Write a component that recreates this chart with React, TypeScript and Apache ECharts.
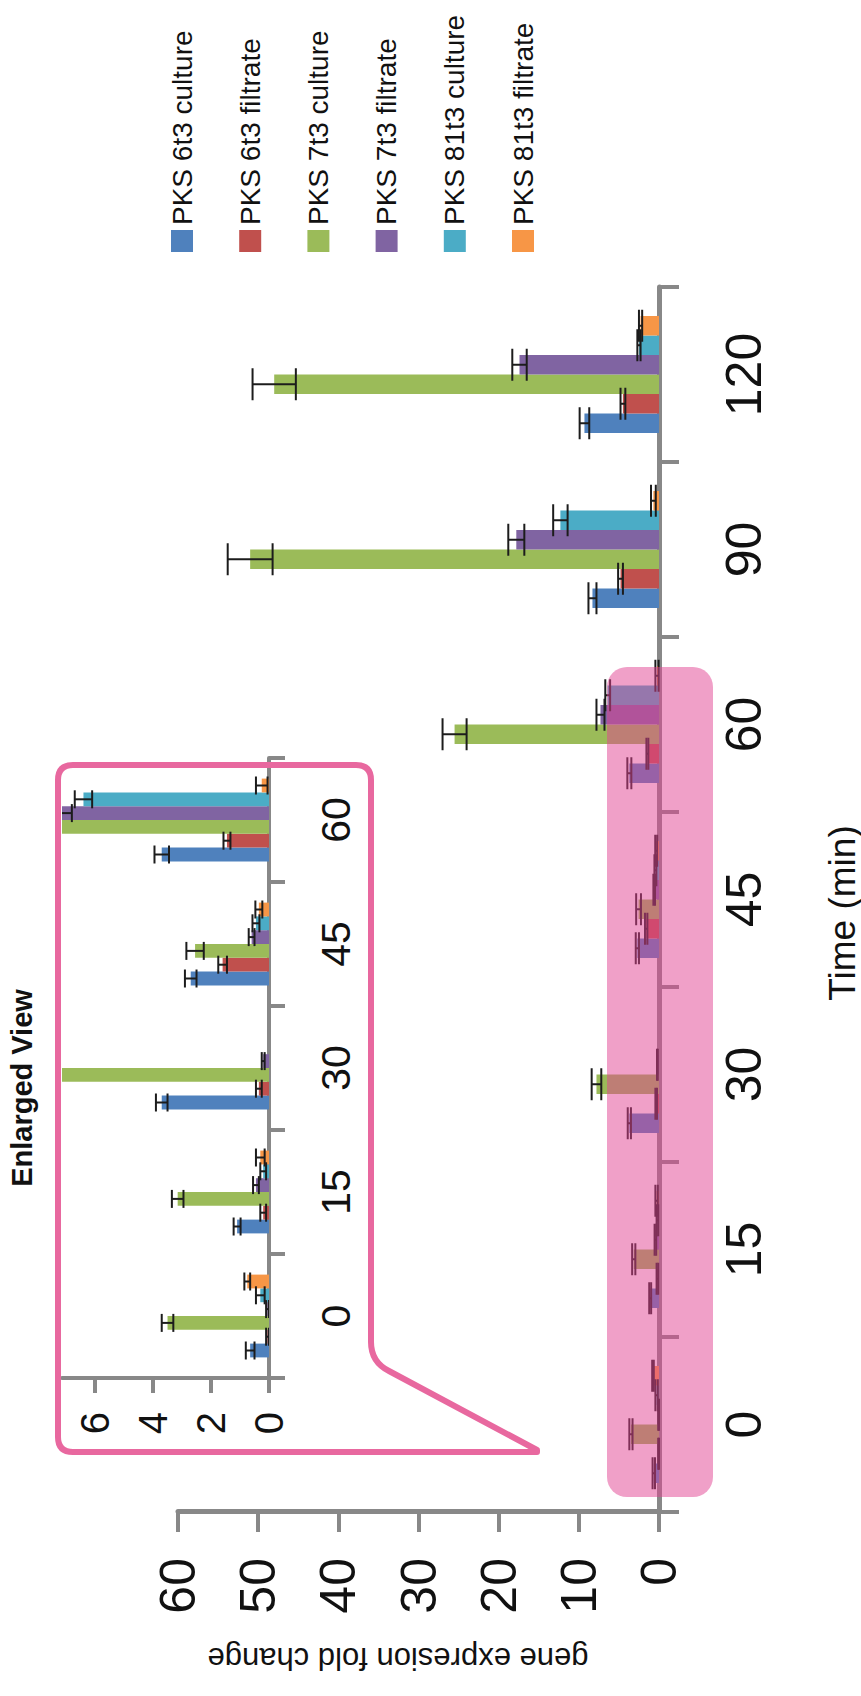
import React, { useEffect, useRef } from "react";
import * as echarts from "echarts";

// ---------- data ----------
const categories = ["0", "15", "30", "45", "60", "90", "120"];
const insetCategories = ["0", "15", "30", "45", "60"];
const seriesNames = [
  "PKS 6t3 culture",
  "PKS 6t3 filtrate",
  "PKS 7t3 culture",
  "PKS 7t3 filtrate",
  "PKS 81t3 culture",
  "PKS 81t3 filtrate",
];
const seriesColors = ["#4F81BD", "#C0504D", "#9BBB59", "#8064A2", "#4BACC6", "#F79646"];

const pks6Culture = [0.65, 1.1, 3.7, 2.7, 3.7, 8.3, 9.3];
const pks6CultureErr = [0.15, 0.12, 0.2, 0.2, 0.25, 0.5, 0.6];
const pks6Filtrate = [0.05, 0.2, 0.35, 1.6, 1.45, 4.8, 4.5];
const pks6FiltrateErr = [0.05, 0.1, 0.1, 0.15, 0.12, 0.3, 0.3];
const pks7Culture = [3.5, 3.15, 7.8, 2.55, 25.5, 51, 48];
const pks7CultureErr = [0.2, 0.2, 0.6, 0.3, 1.5, 2.8, 2.7];
const pks7Filtrate = [0.05, 0.45, 0.2, 0.6, 7.3, 17.8, 17.4];
const pks7FiltrateErr = [0.05, 0.1, 0.05, 0.1, 0.5, 1.0, 0.9];
const pks81Culture = [0.3, 0.2, 0, 0.45, 6.4, 12.3, 2.5];
const pks81CultureErr = [0.15, 0.1, 0, 0.12, 0.3, 0.9, 0.2];
const pks81Filtrate = [0.75, 0.3, 0, 0.35, 0.25, 0.7, 2.3];
const pks81FiltrateErr = [0.1, 0.15, 0, 0.12, 0.2, 0.3, 0.2];

const mainValueTicks = { min: 0, max: 60, interval: 10 };
const insetValueTicks = [0, 2, 4, 6];

const valueSets = [pks6Culture, pks6Filtrate, pks7Culture, pks7Filtrate, pks81Culture, pks81Filtrate];
const errSets = [pks6CultureErr, pks6FiltrateErr, pks7CultureErr, pks7FiltrateErr, pks81CultureErr, pks81FiltrateErr];

// ---------- layout (chart space, drawn then rotated 90° CCW) ----------
const FAM = "'Liberation Sans', Arial, Helvetica, sans-serif";
const AXIS_GRAY = "#888888";
const MAIN_BAR_W = 19.5;
const INSET_BAR_W = 13.8;

const calloutPath =
  "M 244 73 Q 244 58 259 58 L 916 58 Q 931 58 931 73 L 931 356 Q 931 371 916 371 " +
  "L 354 371 Q 334 371 325 389 L 246 537 L 244 537 Z";

function errData(nCat: number) {
  const out: number[][] = [];
  for (let s = 0; s < valueSets.length; s++) {
    for (let c = 0; c < nCat; c++) {
      if (errSets[s][c] > 0) out.push([c, valueSets[s][c], errSets[s][c], s]);
    }
  }
  return out;
}

function makeErrRender(barW: number, capW: number) {
  return (params: any, api: any) => {
    const cat = api.value(0);
    const val = api.value(1);
    const err = api.value(2);
    const s = api.value(3);
    const base = api.coord([cat, val]);
    const x = base[0] + (s - 2.5) * barW;
    const yHi = api.coord([cat, val + err])[1];
    const yLo = api.coord([cat, Math.max(0, val - err)])[1];
    const h = capW / 2;
    const st = { stroke: "#1c1c1c", lineWidth: 2 };
    return {
      type: "group",
      children: [
        { type: "line", shape: { x1: x, y1: yHi, x2: x, y2: yLo }, style: st },
        { type: "line", shape: { x1: x - h, y1: yHi, x2: x + h, y2: yHi }, style: st },
        { type: "line", shape: { x1: x - h, y1: yLo, x2: x + h, y2: yLo }, style: st },
      ],
    };
  };
}

export default function App() {
  const ref = useRef<HTMLDivElement>(null);

  useEffect(() => {
    if (!ref.current) return;
    echarts.graphic.registerShape("callout", echarts.graphic.extendPath(calloutPath, {}));
    const chart = echarts.init(ref.current, null, { renderer: "svg" });

    const mainBars = seriesNames.map((name, i) => ({
      type: "bar",
      name,
      xAxisIndex: 0,
      yAxisIndex: 0,
      data: valueSets[i],
      barWidth: MAIN_BAR_W,
      barGap: "0%",
      itemStyle: { color: seriesColors[i] },
    }));
    const insetBars = seriesNames.map((name, i) => ({
      type: "bar",
      name,
      xAxisIndex: 1,
      yAxisIndex: 1,
      data: valueSets[i].slice(0, insetCategories.length),
      barWidth: INSET_BAR_W,
      barGap: "0%",
      clip: true,
      itemStyle: { color: seriesColors[i] },
    }));

    const option: any = {
      animation: false,
      backgroundColor: "#ffffff",
      textStyle: { fontFamily: FAM },
      legend: {
        orient: "vertical",
        left: 1444,
        top: 168,
        padding: 0,
        itemWidth: 22,
        itemHeight: 22,
        itemGap: 40.2,
        icon: "rect",
        selectedMode: false,
        data: seriesNames,
        textStyle: { fontSize: 28, color: "#111", fontFamily: FAM, lineHeight: 22 },
      },
      grid: [
        { left: 184, top: 178, width: 1225, height: 481 },
        { left: 318, top: 62, width: 620, height: 207 },
      ],
      xAxis: [
        {
          type: "category",
          gridIndex: 0,
          data: categories,
          axisLine: { lineStyle: { color: AXIS_GRAY, width: 5 } },
          axisTick: { show: true, length: 20, lineStyle: { color: AXIS_GRAY, width: 4 } },
          axisLabel: { fontSize: 50, color: "#111", margin: 60, fontFamily: FAM },
        },
        {
          type: "category",
          gridIndex: 1,
          data: insetCategories,
          axisLine: { lineStyle: { color: AXIS_GRAY, width: 4 } },
          axisTick: { show: true, length: 16, lineStyle: { color: AXIS_GRAY, width: 4 } },
          axisLabel: { fontSize: 41, color: "#111", margin: 46, fontFamily: FAM },
        },
      ],
      yAxis: [
        {
          type: "value",
          gridIndex: 0,
          min: mainValueTicks.min,
          max: mainValueTicks.max,
          interval: mainValueTicks.interval,
          splitLine: { show: false },
          axisLine: { show: true, lineStyle: { color: AXIS_GRAY, width: 5 } },
          axisTick: { show: true, length: 20, lineStyle: { color: AXIS_GRAY, width: 4 } },
          axisLabel: { fontSize: 50, color: "#111", margin: 46, fontFamily: FAM },
        },
        {
          type: "value",
          gridIndex: 1,
          min: 0,
          max: 7.14,
          splitLine: { show: false },
          axisLine: { show: true, lineStyle: { color: AXIS_GRAY, width: 4 } },
          axisTick: {
            show: true,
            length: 15,
            customValues: insetValueTicks,
            lineStyle: { color: AXIS_GRAY, width: 4 },
          },
          axisLabel: {
            fontSize: 40,
            color: "#111",
            margin: 34,
            fontFamily: FAM,
            customValues: insetValueTicks,
          },
        },
      ],
      series: [
        ...mainBars,
        ...insetBars,
        {
          type: "custom",
          name: "err-main",
          xAxisIndex: 0,
          yAxisIndex: 0,
          renderItem: makeErrRender(MAIN_BAR_W, 32),
          data: errData(categories.length),
          z: 5,
        },
        {
          type: "custom",
          name: "err-inset",
          xAxisIndex: 1,
          yAxisIndex: 1,
          clip: true,
          renderItem: makeErrRender(INSET_BAR_W, 18),
          data: errData(insetCategories.length),
          z: 5,
        },
      ],
      graphic: [
        {
          type: "callout",
          z: 50,
          style: { fill: "none", stroke: "#e8689f", lineWidth: 6, lineJoin: "round" },
        },
        {
          type: "rect",
          z: 100,
          shape: { x: 199, y: 607, width: 830, height: 106, r: 20 },
          style: { fill: "rgba(225,65,145,0.5)" },
        },
        {
          type: "text",
          x: 608,
          y: 22,
          z: 60,
          style: {
            text: "Enlarged View",
            fontSize: 29,
            fontWeight: "bold",
            fontFamily: FAM,
            fill: "#111",
            align: "center",
            verticalAlign: "middle",
          },
        },
        {
          type: "text",
          x: 783,
          y: 842,
          z: 60,
          style: {
            text: "Time (min)",
            fontSize: 37,
            fontFamily: FAM,
            fill: "#111",
            align: "center",
            verticalAlign: "middle",
          },
        },
        {
          type: "text",
          x: 38,
          y: 398,
          rotation: Math.PI / 2,
          z: 60,
          style: {
            text: "gene expresion fold change",
            fontSize: 31,
            fontFamily: FAM,
            fill: "#111",
            align: "center",
            verticalAlign: "middle",
          },
        },
      ],
    };

    chart.setOption(option);
    return () => {
      chart.dispose();
    };
  }, []);

  return (
    <div
      style={{
        position: "absolute",
        left: 0,
        top: 0,
        width: 861,
        height: 1696,
        overflow: "hidden",
        background: "#ffffff",
      }}
    >
      <div
        ref={ref}
        style={{
          position: "absolute",
          left: 0,
          top: 0,
          width: 1696,
          height: 861,
          transformOrigin: "0 0",
          transform: "translate(0px, 1696px) rotate(-90deg)",
        }}
      />
    </div>
  );
}
